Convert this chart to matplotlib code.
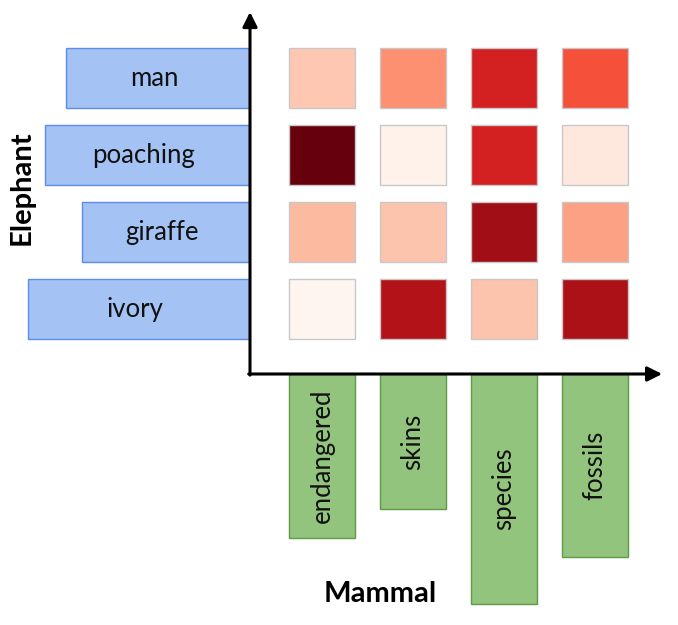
import matplotlib
matplotlib.use("Agg")
import matplotlib.pyplot as plt
from matplotlib.patches import Rectangle
from matplotlib import colormaps
from matplotlib.colors import Normalize

# ---- data ----
rows = ["man", "poaching", "giraffe", "ivory"]          # Elephant terms, top to bottom
cols = ["endangered", "skins", "species", "fossils"]     # Mammal terms, left to right
row_bar = [184, 205, 168, 222]                           # Elephant term weights
col_bar = [164, 135, 230, 183]                           # Mammal term weights
heat = [
    [0.21, 0.38, 0.72, 0.57],
    [1.00, 0.02, 0.72, 0.08],
    [0.25, 0.22, 0.88, 0.33],
    [0.00, 0.83, 0.22, 0.85],
]

W, H = 678, 625
fig = plt.figure(figsize=(W / 100, H / 100), dpi=100)
FONT = "Lato"


def box(x0, y0, x1, y1):
    return [x0 / W, 1 - y1 / H, (x1 - x0) / W, (y1 - y0) / H]


xlim = (-0.791, 3.912)
ylim = (3.844, -1.013)
cw, ch = 0.725, 0.79

# left bars
axl = fig.add_axes(box(0, 0, 250, 374))
axl.barh(range(len(rows)), row_bar, height=ch, color="#a4c2f4",
         edgecolor="#5b8ee6", linewidth=1)
axl.set_xlim(250, 0)
axl.set_ylim(*ylim)
for j, (lab, v) in enumerate(zip(rows, row_bar)):
    axl.text(v / 2 + 4, j, lab, ha="center", va="center", fontsize=18.5,
             family=FONT, color="#111111")
axl.axis("off")

# bottom bars
axb = fig.add_axes(box(250, 374, 678, 625))
axb.bar(range(len(cols)), col_bar, width=cw, color="#93c47d",
        edgecolor="#5f9b45", linewidth=1)
axb.set_xlim(*xlim)
axb.set_ylim(251, 0)
for i, (lab, v) in enumerate(zip(cols, col_bar)):
    axb.text(i, v / 2, lab, ha="center", va="center", rotation=90,
             fontsize=18.5, family=FONT, color="#111111")
axb.axis("off")

# heatmap
axh = fig.add_axes(box(250, 0, 678, 374))
axh.set_zorder(5)
axh.patch.set_alpha(0)
cmap = colormaps["Reds"]
norm = Normalize(0, 1)
for j in range(len(rows)):
    for i in range(len(cols)):
        axh.add_patch(Rectangle((i - cw / 2, j - ch / 2), cw, ch,
                                facecolor=cmap(norm(heat[j][i])),
                                edgecolor="#c8c8c8", linewidth=1))
axh.set_xlim(*xlim)
axh.set_ylim(*ylim)
axh.axis("off")

arrow = dict(arrowstyle="-|>", lw=2.2, color="black", mutation_scale=22,
             shrinkA=0, shrinkB=0)
axh.annotate("", xy=(0, 0.968), xytext=(0, -0.003), xycoords="axes fraction",
             arrowprops=arrow, annotation_clip=False)
axh.annotate("", xy=(0.963, 0), xytext=(-0.003, 0), xycoords="axes fraction",
             arrowprops=arrow, annotation_clip=False)

fig.text(22 / W, 1 - 188 / H, "Elephant", rotation=90, ha="center", va="center",
         fontsize=21, fontweight="bold", family=FONT)
fig.text(380 / W, 1 - 594 / H, "Mammal", ha="center", va="center",
         fontsize=21, fontweight="bold", family=FONT)

fig.savefig("out.png", dpi=100, facecolor="white")
